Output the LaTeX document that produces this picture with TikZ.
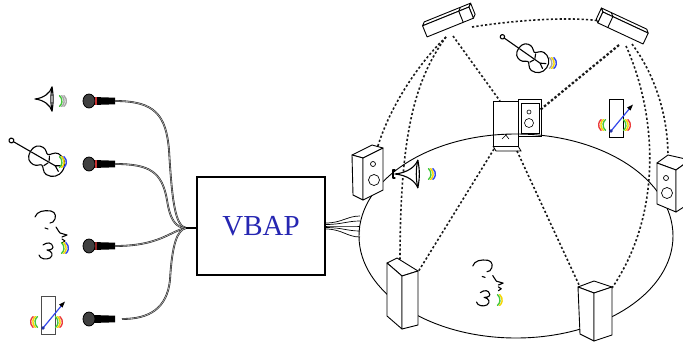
\documentclass[tikz,border=0pt]{standalone}
\usepackage{fontspec}
\newfontfamily\vbapfont{Liberation Serif}
\definecolor{vbapblue}{RGB}{38,38,178}
\definecolor{wgreen}{RGB}{70,200,60}
\definecolor{wyellow}{RGB}{245,215,0}
\definecolor{wblue}{RGB}{50,70,235}
\definecolor{wred}{RGB}{235,60,60}

% sound waves: #1 = apex of the innermost arc, #2..#4 = colours inside out
\newcommand{\soundR}[4]{%
  \draw[wave,#2] #1 ++(-7,0) ++(-50:7) arc[start angle=-50,end angle=50,radius=7];
  \draw[wave,#3] #1 ++(-4.8,0) ++(-50:7) arc[start angle=-50,end angle=50,radius=7];
  \draw[wave,#4] #1 ++(-2.6,0) ++(-50:7) arc[start angle=-50,end angle=50,radius=7];}
\newcommand{\soundL}[4]{%
  \draw[wave,#2] #1 ++(7,0) ++(130:7) arc[start angle=130,end angle=230,radius=7];
  \draw[wave,#3] #1 ++(4.8,0) ++(130:7) arc[start angle=130,end angle=230,radius=7];
  \draw[wave,#4] #1 ++(2.6,0) ++(130:7) arc[start angle=130,end angle=230,radius=7];}

\tikzset{
  icon/.style={line width=1.1pt, line join=round, line cap=round},
  wave/.style={line width=1.4pt, line cap=round},
  dome/.style={line width=1.6pt, black!90, dash pattern=on 2.2pt off 2.2pt},
  domebold/.style={line width=2.2pt, black!90, dash pattern=on 2.5pt off 2pt},
  cable/.style={line width=0.6pt, black!85, double=gray!55, double distance=0.6pt},
  box3d/.style={line width=0.9pt, fill=white, line join=round},
  pics/mic/.style={code={
    \fill[black] (4,-4) -- (26,-3.3) -- (26,3.3) -- (4,4) -- cycle;
    \draw[line width=0.8pt, fill=black!75] (0,0) ellipse [x radius=6, y radius=7];
    \fill[#1] (5.5,-3.8) rectangle (7.5,3.8);
  }},
  pics/mic/.default=wred!85!black,
  pics/horn/.style={code={
    \draw[icon, fill=white] (-9,0) .. controls (0,-1) and (6,-6) .. (8,-12)
      .. controls (9.5,-4) and (9.5,4) .. (8,12) .. controls (6,6) and (0,1) .. (-9,0) -- cycle;
    \draw[icon] (8,-12) .. controls (6.5,-4) and (6.5,4) .. (8,12);
  }},
  pics/violin/.style={code={
    \draw[icon] (-30,0) circle (2.2);
    \draw[icon] (-28,0) -- (-9,0);
    \draw[icon, fill=white] (-10,0) .. controls (-10,-7) and (-6,-9) .. (-2,-9)
      .. controls (2,-9) and (3,-5.5) .. (5,-5.5) .. controls (7,-5.5) and (9,-11) .. (13,-11)
      .. controls (19,-11) and (24,-7) .. (24,0) .. controls (24,7) and (19,11) .. (13,11)
      .. controls (9,11) and (7,5.5) .. (5,5.5) .. controls (3,5.5) and (2,9) .. (-2,9)
      .. controls (-6,9) and (-10,7) .. (-10,0) -- cycle;
    \draw[icon] (-9,0) -- (16,0);
    \draw[icon] (7,-5) -- (9,-1) (7,5) -- (9,1);
    \draw[icon] (16,0) -- (21,-3) (16,0) -- (21,3);
  }},
  pics/face/.style={code={
    \draw[icon] (-15,-20) .. controls (-13,-26) and (-6,-27) .. (1,-26)
      .. controls (6,-25) and (7,-19) .. (3,-15) -- (0,-14);
    \draw[icon] (-5,-9) -- (-2,-8);
    \draw[icon] (6,-10) .. controls (8,-7) and (9,-5) .. (10,-4) -- (17,-2) -- (12,0);
    \draw[icon] (12,2) -- (15,4) -- (12,6);
    \draw[icon] (-7,8) .. controls (-3,5) and (2,5) .. (3,10)
      .. controls (3,13) and (-2,13) .. (-3,13) .. controls (2,14) and (4,18) .. (0,21)
      .. controls (-4,23) and (-10,22) .. (-11,18);
  }},
  pics/bar/.style={code={
    \draw[line width=0.9pt, #1, fill=white] (-7,-19) rectangle (7,19);
    \draw[wblue, line width=1.2pt] (-5,13) -- (14,-10);
    \fill[wblue!70!black] (-5,13) circle (1.8);
    \fill[black] (17,-13.5) -- (11,-10.5) -- (14.5,-7.5) -- cycle;
    \soundL{(-13,7)}{wgreen}{wyellow}{wred}
    \soundR{(10,7)}{wgreen}{wyellow}{wred}
  }},
  pics/bar/.default=gray!60!black,
}

\begin{document}
\begin{tikzpicture}[x=1pt,y=-1pt]
\useasboundingbox (0,0) rectangle (683,343);
\fill[white] (0,0) rectangle (683,343);
\clip (0,0) rectangle (683,343);

% ---------- sources and microphones ----------
\pic at (44,99) {horn};
\soundR{(62,101)}{wgreen}{gray!70}{gray!70}
\pic[rotate=-30, scale=1.1] at (40,157) {violin};
\soundR{(62,162)}{wgreen}{wyellow}{wblue}
\pic at (50,237) {face};
\soundR{(64,248)}{wgreen}{wyellow}{wblue}
\pic at (48,315) {bar};

\pic at (89,101) {mic};
\pic at (89,164) {mic};
\pic at (89,246) {mic=wred!60!black};
\pic at (89,319) {mic=black};
\coordinate (m1) at (115,101);
\coordinate (m2) at (115,164);
\coordinate (m3) at (115,246);
\coordinate (m4) at (122,319);
\coordinate (hub) at (186,228);

% ---------- cables into the panner ----------
\draw[cable] (m1) .. controls (155,101) and (166,115) .. (169,150)
  .. controls (172,200) and (175,226) .. (hub);
\draw[cable] (m2) .. controls (150,164) and (162,172) .. (167,200)
  .. controls (170,220) and (176,228) .. (hub);
\draw[cable] (m3) .. controls (160,246) and (170,231) .. (hub);
\draw[cable] (m4) .. controls (150,319) and (167,308) .. (170,280)
  .. controls (172,245) and (177,230) .. (hub);

\node[draw, line width=1.1pt, fill=white, minimum width=128pt, minimum height=98pt,
  inner sep=0pt, text=vbapblue, font=\vbapfont\fontsize{29}{30}\selectfont]
  (vbap) at (261,226) {VBAP};
\draw[line width=1.3pt] (hub) -- (vbap.west |- hub);

% ---------- loudspeaker dome ----------
\draw[line width=0.9pt] (516,236) ellipse [x radius=157, y radius=102];
\foreach \a/\b in {223/216, 224.5/221, 226/226, 227.5/231, 229/237}
  \draw[line width=0.7pt] (vbap.east |- 0,\a) .. controls (342,\a) and (347,\b) .. (360,\b);

\coordinate (s1b) at (446,37);
\coordinate (s1c) at (453,36);
\coordinate (s1r) at (472,27);
\coordinate (s2l) at (601,21);
\coordinate (s2c) at (619,45);
\coordinate (s2b) at (626,46);
\coordinate (s2r) at (632,44);
\coordinate (s3t) at (500,101);
\coordinate (s3r) at (540,110);
\coordinate (s3bl) at (494,149);
\coordinate (s3br) at (517,151);
\coordinate (s4t) at (377,149);
\coordinate (s5t) at (668,157);
\coordinate (s6t) at (400,262);
\coordinate (s6r) at (418,272);
\coordinate (s7t) at (580,287);
\coordinate (s7r) at (612,288);

\draw[dome] (s1b) .. controls (420,62) and (390,105) .. (s4t);
\draw[dome] (s1b) .. controls (413,82) and (400,140) .. (s6t);
\draw[dome] (s1c) -- (s3t);
\draw[dome] (s1r) .. controls (510,21) and (565,16) .. (s2l);
\draw[domebold] (s2c) -- (s3r);
\draw[dome] (s2r) .. controls (655,75) and (668,115) .. (s5t);
\draw[dome] (s2b) .. controls (655,110) and (665,210) .. (s7r);
\draw[dome] (s3bl) -- (s6r);
\draw[dome] (s3br) -- (s7t);

% top-left speaker
\begin{scope}[shift={(448,22)}, rotate=22]
  \draw[box3d] (-25,-6) -- (-22,-9) -- (28,-9) -- (25,-6) -- cycle;
  \draw[box3d] (25,-6) -- (28,-9) -- (28,3) -- (25,6) -- cycle;
  \draw[box3d] (-25,-6) rectangle (25,6);
  \draw[line width=0.9pt] (14,-6) -- (14,6) (14,-6) -- (17,-9);
\end{scope}
% top-right speaker
\begin{scope}[shift={(623,28)}, rotate=-25]
  \draw[box3d] (25,-6) -- (22,-9) -- (-28,-9) -- (-25,-6) -- cycle;
  \draw[box3d] (-25,-6) -- (-28,-9) -- (-28,3) -- (-25,6) -- cycle;
  \draw[box3d] (-25,-6) rectangle (25,6);
  \draw[line width=0.9pt] (-14,-6) -- (-14,6) (-14,-6) -- (-17,-9);
\end{scope}
% rear speakers
\draw[line width=0.9pt] (518,99) rectangle (541,136);
\draw[line width=0.6pt] (521,103) rectangle (539,133);
\draw[line width=0.6pt] (529,112) circle (2) (529,123) circle (4.5);
\draw[line width=1pt] (493,101) rectangle (518,146);
\draw[line width=0.8pt] (493,146) -- (496,151) -- (521,151) -- (518,146);
\draw[line width=0.6pt] (502,139) -- (507,134) (505,134) -- (509,139);
% left speaker
\draw[box3d] (352,155) -- (372,145) -- (383,148) -- (363,158) -- cycle;
\draw[box3d] (352,155) -- (363,158) -- (363,200) -- (353,195) -- cycle;
\draw[box3d] (363,158) -- (383,148) -- (383,190) -- (363,200) -- cycle;
\draw[line width=0.7pt] (373,164) circle (2.5) (374,180) circle (5.5);
% right speaker
\draw[box3d] (657,163) -- (668,155) -- (690,160) -- (676,170) -- cycle;
\draw[box3d] (657,163) -- (676,170) -- (676,212) -- (657,204) -- cycle;
\draw[box3d] (676,170) -- (690,160) -- (690,203) -- (676,212) -- cycle;
\draw[line width=0.7pt] (666,178) circle (2.5) (667,193) circle (5.5);
% front-left speaker
\draw[box3d] (387,263) -- (397,258) -- (418,271) -- (402,276) -- cycle;
\draw[box3d] (387,263) -- (402,276) -- (402,329) -- (387,316) -- cycle;
\draw[box3d] (402,276) -- (418,271) -- (418,325) -- (402,329) -- cycle;
% front-right speaker
\draw[box3d] (578,287) -- (594,281) -- (612,287) -- (594,293) -- cycle;
\draw[box3d] (578,287) -- (594,293) -- (594,341) -- (580,334) -- cycle;
\draw[box3d] (594,293) -- (612,287) -- (612,335) -- (594,341) -- cycle;

% virtual sources inside the dome
\pic[rotate=-35, scale=1.0] at (527,54) {violin};
\soundR{(552,63)}{gray!70}{wyellow}{wblue}
\begin{scope}[shift={(616,118)}, scale=0.62]
  \pic {bar=black};
\end{scope}
\pic[xscale=1.35, yscale=1.15] at (407,174) {horn};
\draw[icon] (395,170) -- (393,170) -- (393,178) -- (395,178);
\soundR{(431,174)}{wgreen}{wyellow}{wblue}
\pic[scale=0.95] at (487,285) {face};
\soundR{(500,300)}{wgreen}{wyellow}{draw=none}
\end{tikzpicture}
\end{document}
